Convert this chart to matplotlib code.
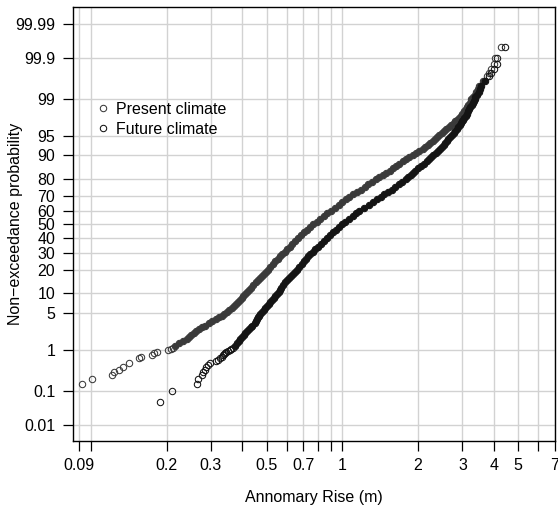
import numpy as np
import matplotlib
matplotlib.use("Agg")
import matplotlib.pyplot as plt
from matplotlib.ticker import NullLocator
from statistics import NormalDist

plt.rcParams["font.family"] = ["Liberation Sans", "DejaVu Sans"]

# non-exceedance probabilities (%) read along the dense part of both curves
band_p = [1.2, 1.35, 1.5, 1.65, 1.8, 2.0, 2.2, 2.4, 2.6, 2.8,
          3.0, 3.3, 3.6, 3.9, 4.2, 4.5, 4.8, 5.2, 5.6, 6.0,
          6.5, 7.0, 7.5, 8.0, 8.6, 9.2, 9.8, 10.5, 11.2, 12,
          13, 14, 15, 16, 17, 18, 19, 20, 21.5, 23,
          24.5, 26, 27.5, 29, 30.5, 32, 34, 36, 38, 40,
          42, 44, 46, 48, 50, 52, 54, 56, 58, 60,
          62, 64, 66, 68, 69.5, 71, 72.5, 74, 75.5, 77,
          78.5, 80, 81, 82, 83, 84, 85, 86, 87, 88,
          88.8, 89.5, 90.2, 90.8, 91.4, 92, 92.5, 93, 93.5, 94,
          94.4, 94.8, 95.2, 95.5, 95.8, 96.1, 96.4, 96.7, 97, 97.2,
          97.4, 97.6, 97.8, 98.0, 98.2, 98.35, 98.5, 98.65, 98.8, 98.9,
          99.0, 99.1, 99.2, 99.3, 99.4, 99.5, 99.6]

present_band_x = [0.2168, 0.2249, 0.2333, 0.2403, 0.2447, 0.2506, 0.2565, 0.2629, 0.2700, 0.2771,
                  0.2841, 0.2947, 0.3040, 0.3133, 0.3226, 0.3319, 0.3391, 0.3473, 0.3555, 0.3637,
                  0.3706, 0.3776, 0.3845, 0.3914, 0.3980, 0.4046, 0.4112, 0.4182, 0.4249, 0.4325,
                  0.4421, 0.4516, 0.4612, 0.4700, 0.4788, 0.4877, 0.4965, 0.5053, 0.5172, 0.5292,
                  0.5411, 0.5531, 0.5650, 0.5769, 0.5889, 0.6009, 0.6168, 0.6328, 0.6487, 0.6647,
                  0.6843, 0.7038, 0.7234, 0.7429, 0.7625, 0.7897, 0.8169, 0.8441, 0.8714, 0.8986,
                  0.9327, 0.9668, 1.0008, 1.0349, 1.0605, 1.098, 1.141, 1.184, 1.228, 1.270,
                  1.313, 1.356, 1.402, 1.449, 1.495, 1.541, 1.587, 1.634, 1.680, 1.739,
                  1.797, 1.848, 1.904, 1.965, 2.025, 2.086, 2.136, 2.186, 2.237, 2.287,
                  2.328, 2.368, 2.424, 2.479, 2.534, 2.590, 2.648, 2.707, 2.765, 2.812,
                  2.859, 2.907, 2.954, 3.001, 3.053, 3.091, 3.130, 3.168, 3.207, 3.233,
                  3.259, 3.308, 3.358, 3.407, 3.457, 3.506, 3.623]

future_band_x = [0.3757, 0.3816, 0.3875, 0.3931, 0.3982, 0.4049, 0.4117, 0.4185, 0.4252, 0.4320,
                 0.4387, 0.4487, 0.4532, 0.4576, 0.4621, 0.4666, 0.4710, 0.4781, 0.4863, 0.4945,
                 0.5036, 0.5107, 0.5179, 0.5250, 0.5336, 0.5422, 0.5508, 0.5585, 0.5651, 0.5727,
                 0.5822, 0.5917, 0.6012, 0.6127, 0.6242, 0.6357, 0.6472, 0.6587, 0.6736, 0.6886,
                 0.7035, 0.7179, 0.7321, 0.7463, 0.7612, 0.7778, 0.8000, 0.8221, 0.8442, 0.8663,
                 0.8918, 0.9172, 0.9427, 0.9681, 0.9936, 1.029, 1.064, 1.099, 1.134, 1.169,
                 1.222, 1.274, 1.327, 1.379, 1.419, 1.467, 1.520, 1.572, 1.625, 1.678,
                 1.730, 1.783, 1.824, 1.866, 1.907, 1.949, 1.990, 2.048, 2.107, 2.165,
                 2.212, 2.253, 2.298, 2.347, 2.396, 2.445, 2.486, 2.527, 2.568, 2.608,
                 2.641, 2.674, 2.720, 2.766, 2.811, 2.854, 2.891, 2.929, 2.966, 2.991,
                 3.016, 3.049, 3.089, 3.129, 3.169, 3.199, 3.229, 3.267, 3.305, 3.330,
                 3.356, 3.381, 3.429, 3.476, 3.524, 3.571, 3.689]

# sparse tails
present_lo_p = [0.15, 0.2, 0.25, 0.3, 0.35, 0.4, 0.5, 0.65, 0.7, 0.75, 0.85, 0.9, 1.0, 1.05, 1.1]
present_lo_x = [0.092, 0.101, 0.121, 0.124, 0.129, 0.134, 0.142, 0.156, 0.158, 0.175, 0.179, 0.183,
                0.203, 0.208, 0.213]
present_hi_p = [99.7, 99.75, 99.8, 99.85, 99.9, 99.95]
present_hi_x = [3.74, 3.81, 3.88, 3.99, 4.06, 4.29]

future_lo_p = [0.05, 0.1, 0.15, 0.2, 0.25, 0.3, 0.35, 0.4, 0.45, 0.5, 0.55, 0.6, 0.65, 0.7,
               0.75, 0.8, 0.85, 0.9, 0.95, 1.0, 1.05, 1.1]
future_lo_x = [0.189, 0.211, 0.265, 0.266, 0.276, 0.280, 0.284, 0.288, 0.293, 0.297, 0.316, 0.321,
               0.326, 0.331, 0.336, 0.340, 0.343, 0.346, 0.352, 0.357, 0.362, 0.368]
future_hi_p = [99.7, 99.75, 99.8, 99.85, 99.9, 99.95]
future_hi_x = [3.81, 3.91, 4.02, 4.10, 4.13, 4.41]

xtick_vals = [0.09, 0.1, 0.2, 0.3, 0.4, 0.5, 0.6, 0.7, 0.8, 0.9, 1, 2, 3, 4, 5, 6, 7]
xtick_labels = ["0.09", "", "0.2", "0.3", "", "0.5", "", "0.7", "", "", "1",
                "2", "3", "4", "5", "", "7"]
ytick_vals = [0.01, 0.1, 1, 5, 10, 20, 30, 40, 50, 60, 70, 80, 90, 95, 99, 99.9, 99.99]
ytick_labels = ["0.01", "0.1", "1", "5", "10", "20", "30", "40", "50", "60", "70", "80",
                "90", "95", "99", "99.9", "99.99"]

# normal probability scale for the y axis
nd = NormalDist()
_ppf = np.vectorize(lambda v: nd.inv_cdf(min(max(v, 1e-12), 1 - 1e-12)) if np.isfinite(v) else np.nan,
                    otypes=[float])
_cdf = np.vectorize(lambda v: nd.cdf(v) if not np.isnan(v) else np.nan, otypes=[float])


def prob_fwd(p):
    return _ppf(np.asarray(p, dtype=float) / 100.0)


def prob_inv(z):
    return 100.0 * _cdf(np.asarray(z, dtype=float))


fig = plt.figure(figsize=(5.58, 5.12), dpi=100)
ax = fig.add_axes([73 / 558, 1 - 441 / 512, 482 / 558, 434 / 512])

ax.set_xscale("log")
ax.set_yscale("function", functions=(prob_fwd, prob_inv))

series = [
    ("Present climate", "#3a3a3a", present_lo_x + present_hi_x, present_lo_p + present_hi_p, present_band_x),
    ("Future climate", "#141414", future_lo_x + future_hi_x, future_lo_p + future_hi_p, future_band_x),
]
ms = 4.6
for name, col, tail_x, tail_p, bx in series:
    # the dense middle: ~2000 overlapping circles render as a solid stroke
    ax.plot(bx, band_p, linestyle="none", marker="o", markersize=ms,
            markerfacecolor=col, markeredgecolor=col, markeredgewidth=0.75)
    ax.plot(tail_x, tail_p, linestyle="none", marker="o", markersize=ms,
            markerfacecolor="none", markeredgecolor=col, markeredgewidth=0.75,
            label=name)

ax.set_xlim(0.085, 7.0)
ax.set_ylim(0.00287, 99.99726)

ax.set_xticks(xtick_vals, xtick_labels)
ax.set_yticks(ytick_vals, ytick_labels)
ax.xaxis.set_minor_locator(NullLocator())
ax.yaxis.set_minor_locator(NullLocator())

ax.grid(True, color="#d2d2d2", linewidth=1.0)
ax.set_axisbelow(True)

ax.tick_params(direction="out", length=7, width=0.9, labelsize=11.5, colors="black")
ax.tick_params(axis="x", pad=5)
ax.tick_params(axis="y", pad=5.8)
for s in ax.spines.values():
    s.set_linewidth(1.0)
    s.set_color("black")

ax.set_xlabel("Annomary Rise (m)", fontsize=11.5)
ax.set_ylabel("Non\u2212exceedance probability", fontsize=11.5)
ax.xaxis.set_label_coords(0.5, -0.114)
ax.yaxis.set_label_coords(-0.103, 0.5)

ax.legend(loc="upper left", bbox_to_anchor=(0.049, 0.7816), frameon=False,
          borderpad=0, borderaxespad=0, handlelength=0.8, handletextpad=0.41,
          labelspacing=0.33, fontsize=11.5)

fig.savefig("out.png", dpi=100)
